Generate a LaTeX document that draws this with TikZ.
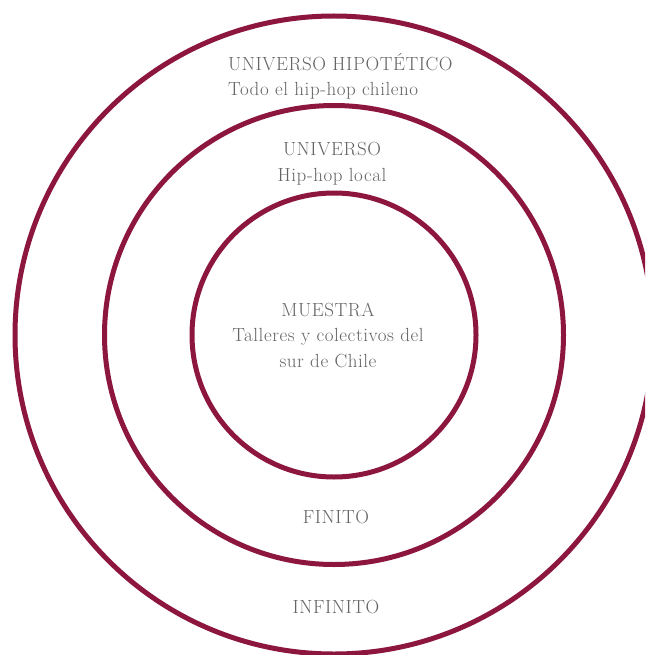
\documentclass[tikz,border=0pt]{standalone}
\usepackage{fontspec}
\setmainfont{Latin Modern Roman}[LetterSpace=3]
\definecolor{ringcol}{RGB}{140,22,62}
\definecolor{txtcol}{RGB}{100,100,100}
\begin{document}
\begin{tikzpicture}[x=1pt,y=-1pt,
  ring/.style={circle,draw=ringcol,line width=5pt,inner sep=0pt},
  lab/.style={text=txtcol,font=\fontsize{19}{25.5}\selectfont,inner sep=0pt}]
\clip (0,0) rectangle (645,655);
\fill[white] (0,0) rectangle (645,655);
\node[ring,minimum size=638pt] (outer) at (334,335) {};
\node[ring,minimum size=459pt] (middle) at (334,335) {};
\node[ring,minimum size=284pt] (inner) at (334,335) {};
\node[lab,align=left,anchor=base west] (hipo) at (228,96) {UNIVERSO HIPOT\'ETICO\\Todo el hip-hop chileno};
\node[lab,align=center,anchor=base] (univ) at (332,181) {UNIVERSO\\Hip-hop local};
\node[lab,align=center,anchor=base] (muestra) at (328,367) {MUESTRA\\Talleres y colectivos del\\sur de Chile};
\node[lab,anchor=base] (finito) at (336,523) {FINITO};
\node[lab,anchor=base] (infinito) at (336,613) {INFINITO};
\end{tikzpicture}
\end{document}
